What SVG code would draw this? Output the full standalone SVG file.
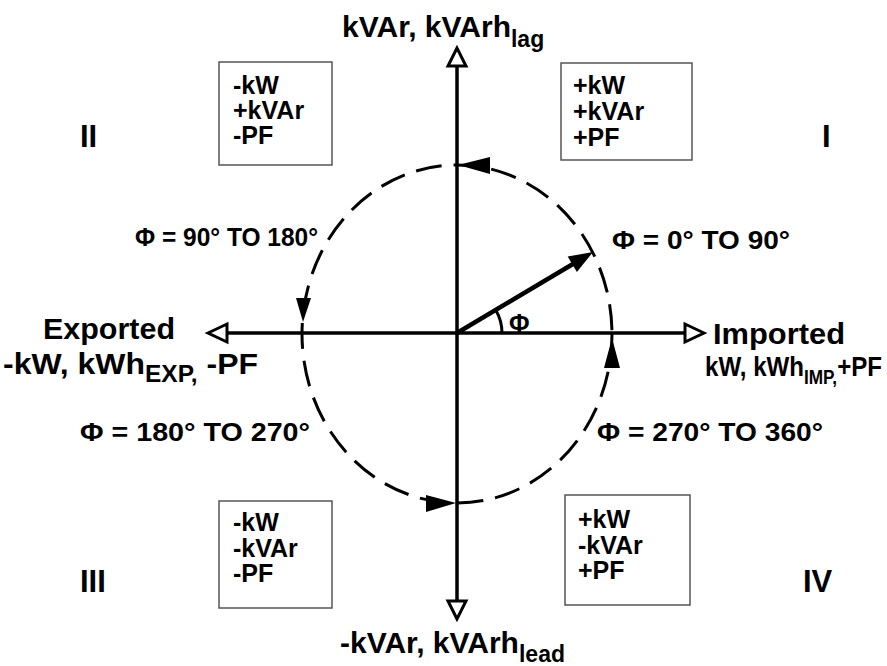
<svg xmlns="http://www.w3.org/2000/svg" width="887" height="666" viewBox="0 0 887 666">
<style>
text{font-family:"Liberation Sans",Arial,sans-serif;font-weight:bold;fill:#000}
.big{font-size:30px}
.sub{font-size:23px}
.lbl{font-size:25px}
.box{fill:#fff;stroke:#555;stroke-width:1.5}
.bt{font-size:25px}
.rn{font-size:31px}
.axis{stroke:#000;stroke-width:3.5;fill:none}
.open{fill:#fff;stroke:#000;stroke-width:3;stroke-linejoin:miter}
.fill{fill:#000;stroke:none}
</style>
<rect width="887" height="666" fill="#fff"/>
<g id="connectors">
<ellipse cx="457" cy="334" rx="155" ry="169" fill="none" stroke="#000" stroke-width="3" stroke-dasharray="26 12"/>
<line class="axis" x1="457" y1="66" x2="457" y2="602"/>
<line class="axis" x1="228" y1="333" x2="685" y2="333"/>
<polygon class="open" points="457,48 448,66 466,66"/>
<polygon class="open" points="457,619 448,601 466,601"/>
<polygon class="open" points="208,333 227,324 227,342"/>
<polygon class="open" points="704,333 685,324 685,342"/>
<polygon class="fill" points="458,165 490,157 490,174"/>
<polygon class="fill" points="303,322 296,298 311,298"/>
<polygon class="fill" points="456,503 426,495 426,512"/>
<polygon class="fill" points="612,338 604,368 620,368"/>
<line x1="457" y1="333" x2="578" y2="261" stroke="#000" stroke-width="4.5"/>
<polygon class="fill" points="593,252 567.7,256.6 576.9,272"/>
<path d="M502 333 A45 45 0 0 0 495.7 309.9" fill="none" stroke="#000" stroke-width="3"/>
</g>
<g id="phi"><text class="lbl" x="509" y="332">Φ</text></g>
<g id="axis-top"><text class="big" x="342" y="37">kVAr, kVArh<tspan class="sub" dy="10">lag</tspan></text></g>
<g id="axis-bottom"><text class="big" x="340" y="653">-kVAr, kVArh<tspan class="sub" dy="9">lead</tspan></text></g>
<g id="axis-left"><text class="big" x="43" y="339" textLength="132" lengthAdjust="spacingAndGlyphs">Exported</text><text class="big" x="3" y="374" textLength="255" lengthAdjust="spacingAndGlyphs">-kW, kWh<tspan class="sub" dy="8">EXP,</tspan><tspan dy="-8"> -PF</tspan></text></g>
<g id="axis-right"><text class="big" x="713" y="344" textLength="132" lengthAdjust="spacingAndGlyphs">Imported</text><text x="705" y="376" font-size="28" textLength="177" lengthAdjust="spacingAndGlyphs">kW, kWh<tspan font-size="20" dy="8">IMP,</tspan><tspan dy="-8">+PF</tspan></text></g>
<g id="box-II"><rect class="box" x="219" y="62" width="113" height="103"/><text class="bt" x="233" y="94">-kW</text><text class="bt" x="233" y="119">+kVAr</text><text class="bt" x="233" y="144">-PF</text></g>
<g id="box-I"><rect class="box" x="561" y="63" width="131" height="97"/><text class="bt" x="573" y="94">+kW</text><text class="bt" x="573" y="120">+kVAr</text><text class="bt" x="573" y="146">+PF</text></g>
<g id="box-III"><rect class="box" x="219" y="501" width="113" height="107"/><text class="bt" x="233" y="531">-kW</text><text class="bt" x="233" y="557">-kVAr</text><text class="bt" x="233" y="582">-PF</text></g>
<g id="box-IV"><rect class="box" x="565" y="495" width="125" height="110"/><text class="bt" x="578" y="528">+kW</text><text class="bt" x="578" y="554">-kVAr</text><text class="bt" x="578" y="579">+PF</text></g>
<g id="quadrants"><text class="rn" x="80" y="147">II</text><text class="rn" x="822" y="147">I</text><text class="rn" x="80" y="592">III</text><text class="rn" x="803" y="592">IV</text></g>
<g id="angles"><text class="lbl" x="135" y="246" textLength="183" lengthAdjust="spacingAndGlyphs">Φ = 90° TO 180°</text><text class="lbl" x="612" y="249" textLength="178" lengthAdjust="spacingAndGlyphs">Φ = 0° TO 90°</text><text class="lbl" x="80" y="441" textLength="230" lengthAdjust="spacingAndGlyphs">Φ = 180° TO 270°</text><text class="lbl" x="597" y="441" textLength="226" lengthAdjust="spacingAndGlyphs">Φ = 270° TO 360°</text></g>
</svg>
